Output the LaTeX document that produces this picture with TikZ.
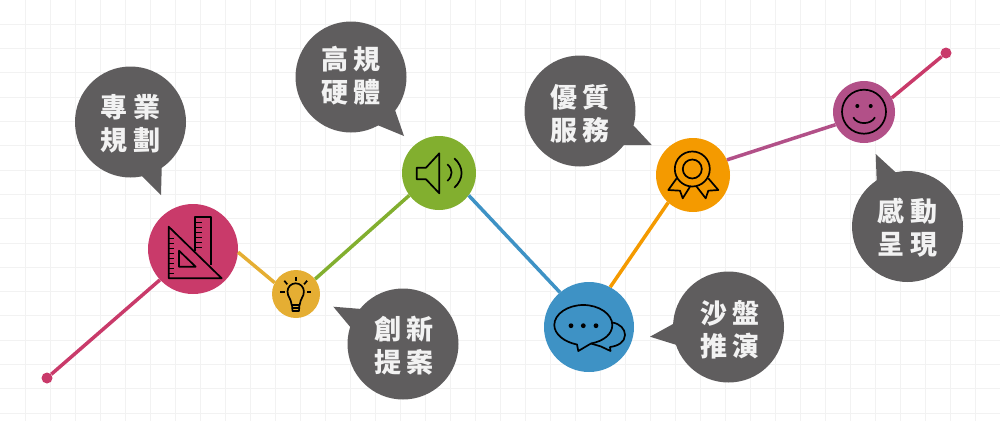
\documentclass[tikz,border=0pt]{standalone}
\usepackage{fontspec}
\newfontfamily\cjkfont[LetterSpace=22]{Noto Sans CJK TC}
\usetikzlibrary{calc}

\definecolor{rosered}{HTML}{C93A6A}
\definecolor{amber}{HTML}{E5AE33}
\definecolor{leaf}{HTML}{82AF2F}
\definecolor{skyblue}{HTML}{3E92C5}
\definecolor{tangerine}{HTML}{F49A00}
\definecolor{plum}{HTML}{B25088}
\definecolor{slategray}{HTML}{5F5D5E}

\tikzset{
  link/.style={line width=3.5pt},
  hub/.style={circle, inner sep=0pt},
  tip/.style={circle, inner sep=0pt, minimum size=11pt, fill=rosered},
  bubble/.style={circle, inner sep=0pt, minimum size=111pt, fill=slategray},
  caption/.style={inner sep=0pt, text=white!95!black, align=center,
    font=\cjkfont\bfseries\fontsize{27}{33}\selectfont},
  icon/.style={line width=1.7pt, black, line join=round},
  tick/.style={line width=1pt, black}
}

\begin{document}
\begin{tikzpicture}[x=1pt, y=-1pt]
  \useasboundingbox (0,0) rectangle (1000,421);

  % background grid
  \foreach \i in {1,...,39} \draw[black!5, line width=1pt] (25*\i,0) -- (25*\i,421);
  \foreach \i in {1,...,17} \draw[black!5, line width=1pt] (0,24.3*\i) -- (1000,24.3*\i);

  % hubs along the line
  \node[tip] (start) at (47,378) {};
  \node[hub, minimum size=90pt, fill=rosered] (plan) at (193,249) {};
  \node[hub, minimum size=48pt, fill=amber] (idea) at (296,294) {};
  \node[hub, minimum size=74pt, fill=leaf] (sound) at (439,173) {};
  \node[hub, minimum size=90pt, fill=skyblue] (talk) at (589,327) {};
  \node[hub, minimum size=74pt, fill=tangerine] (award) at (693,175) {};
  \node[hub, minimum size=62pt, fill=plum] (smile) at (864,112) {};
  \node[tip] (end) at (946,53) {};

  % connecting line
  \draw[link, rosered] (start) -- (plan.223);
  \draw[link, amber] (plan.-4) -- (idea.152);
  \draw[link, leaf] (idea.38) -- (sound.217);
  \draw[link, skyblue] (sound.-37) -- (talk.130);
  \draw[link, tangerine] (talk.62) -- (award.228);
  \draw[link, plum] (award.24) -- (smile.204);
  \draw[link, rosered] (smile.27) -- (end);

  % speech bubbles
  \node[bubble] (b1) at (130.5,122) {};
  \node[bubble] (b2) at (351,77) {};
  \node[bubble] (b3) at (580,111) {};
  \node[bubble] (b4) at (403,344) {};
  \node[bubble] (b5) at (728.5,327) {};
  \node[bubble] (b6) at (907.5,226.5) {};
  \fill[slategray] (141.7,175.7) -- (161,195) -- (161.7,168.3) -- (b1.center) -- cycle;
  \fill[slategray] (377.3,125) -- (404,136) -- (395,110) -- (b2.center) -- cycle;
  \fill[slategray] (634,126) -- (651.7,145) -- (623.3,145) -- (b3.center) -- cycle;
  \fill[slategray] (361.7,309) -- (333.3,306.7) -- (350,326.7) -- (b4.center) -- cycle;
  \fill[slategray] (674.3,323.3) -- (650,336.7) -- (676.7,345) -- (b5.center) -- cycle;
  \fill[slategray] (896.7,173.3) -- (875.7,154) -- (876.7,181.7) -- (b6.center) -- cycle;

  % bubble texts
  \node[caption] (t1) at (130.5,124) {專業\\規劃};
  \node[caption] (t2) at (351,76) {高規\\硬體};
  \node[caption] (t3) at (580,113.5) {優質\\服務};
  \node[caption] (t4) at (404,345.5) {創新\\提案};
  \node[caption] (t5) at (730,330) {沙盤\\推演};
  \node[caption] (t6) at (907.5,227.5) {感動\\呈現};

  % set square and ruler
  \draw[icon] (168.7,226.7) -- (168.7,278.3) -- (221.7,278.3) -- cycle;
  \draw[icon] (179,250.7) -- (179,266.7) -- (195.7,266.7) -- cycle;
  \draw[icon] (195,251) -- (195,216.7) -- (210.7,216.7) -- (210.7,265);
  \foreach \y in {238,243,248,253,258,263,268,273} \draw[tick] (168.7,\y) -- (174,\y);
  \foreach \y in {222,227,232,237,242,247} \draw[tick] (195,\y) -- (202,\y);

  % light bulb
  \draw[icon] (291.7,305) .. controls (291,298) and (287.5,297) .. (287.5,291.5)
    arc (180:360:8.2) .. controls (303.9,297) and (300.4,298) .. (299.7,305) -- cycle;
  \draw[icon] (292,308) -- (299.4,308);
  \draw[icon] (292,305) -- (292.5,311) -- (299,311) -- (299.4,305);
  \draw[icon] (295.7,276.7) -- (295.7,280.7);
  \draw[icon] (284.3,280.7) -- (287.3,284.3);
  \draw[icon] (307.1,280.7) -- (304.1,284.3);
  \draw[icon] (280,291.7) -- (284.5,291.7);
  \draw[icon] (306.9,291.7) -- (311.4,291.7);

  % loudspeaker
  \draw[icon] (416.7,167.7) -- (426,167.7) -- (439.3,153.3) -- (439.3,193.3) -- (426,179.3) -- (416.7,179.3) -- cycle;
  \draw[icon] (447.3,164.3) .. controls (453,169) and (453,176) .. (447.3,181);
  \draw[icon] (454.3,158.3) .. controls (464,167) and (464,179) .. (454.3,187.7);

  % chat balloons
  \draw[icon] (591,343.5) .. controls (604,341) and (612.3,334) .. (612.3,325)
    .. controls (612.3,314) and (599,305) .. (583.3,305)
    .. controls (567.6,305) and (554.3,314) .. (554.3,325)
    .. controls (554.3,334) and (564,342) .. (577,344.5)
    -- (578.3,351) -- (591,343.5);
  \draw[icon] (612,322.5) .. controls (620,323.5) and (625,329) .. (625,335)
    .. controls (625,342) and (618,346) .. (610,347)
    -- (610.5,351) -- (601,346.5) -- (591,343.5);
  \foreach \x in {571,583.3,596} \fill[black] (\x,325.7) circle (2.4);

  % rosette
  \draw[icon] (692.3,169) circle (17.5);
  \draw[icon] (692.3,169) circle (9.5);
  \draw[icon] (676.7,178.3) -- (668.3,190) -- (680,190.7) -- (682.7,198.3) -- (690,186.7);
  \draw[icon] (708.3,178.3) -- (718.3,190) -- (708.3,190.7) -- (705.7,198.3) -- (696.7,186.7);

  % smiley
  \draw[icon] (864,111.7) circle (22);
  \fill[black] (857.3,106) circle (2);
  \fill[black] (870.7,106) circle (2);
  \draw[icon] (853.3,117.3) .. controls (857,125) and (871,125) .. (875,117.3);
\end{tikzpicture}
\end{document}
